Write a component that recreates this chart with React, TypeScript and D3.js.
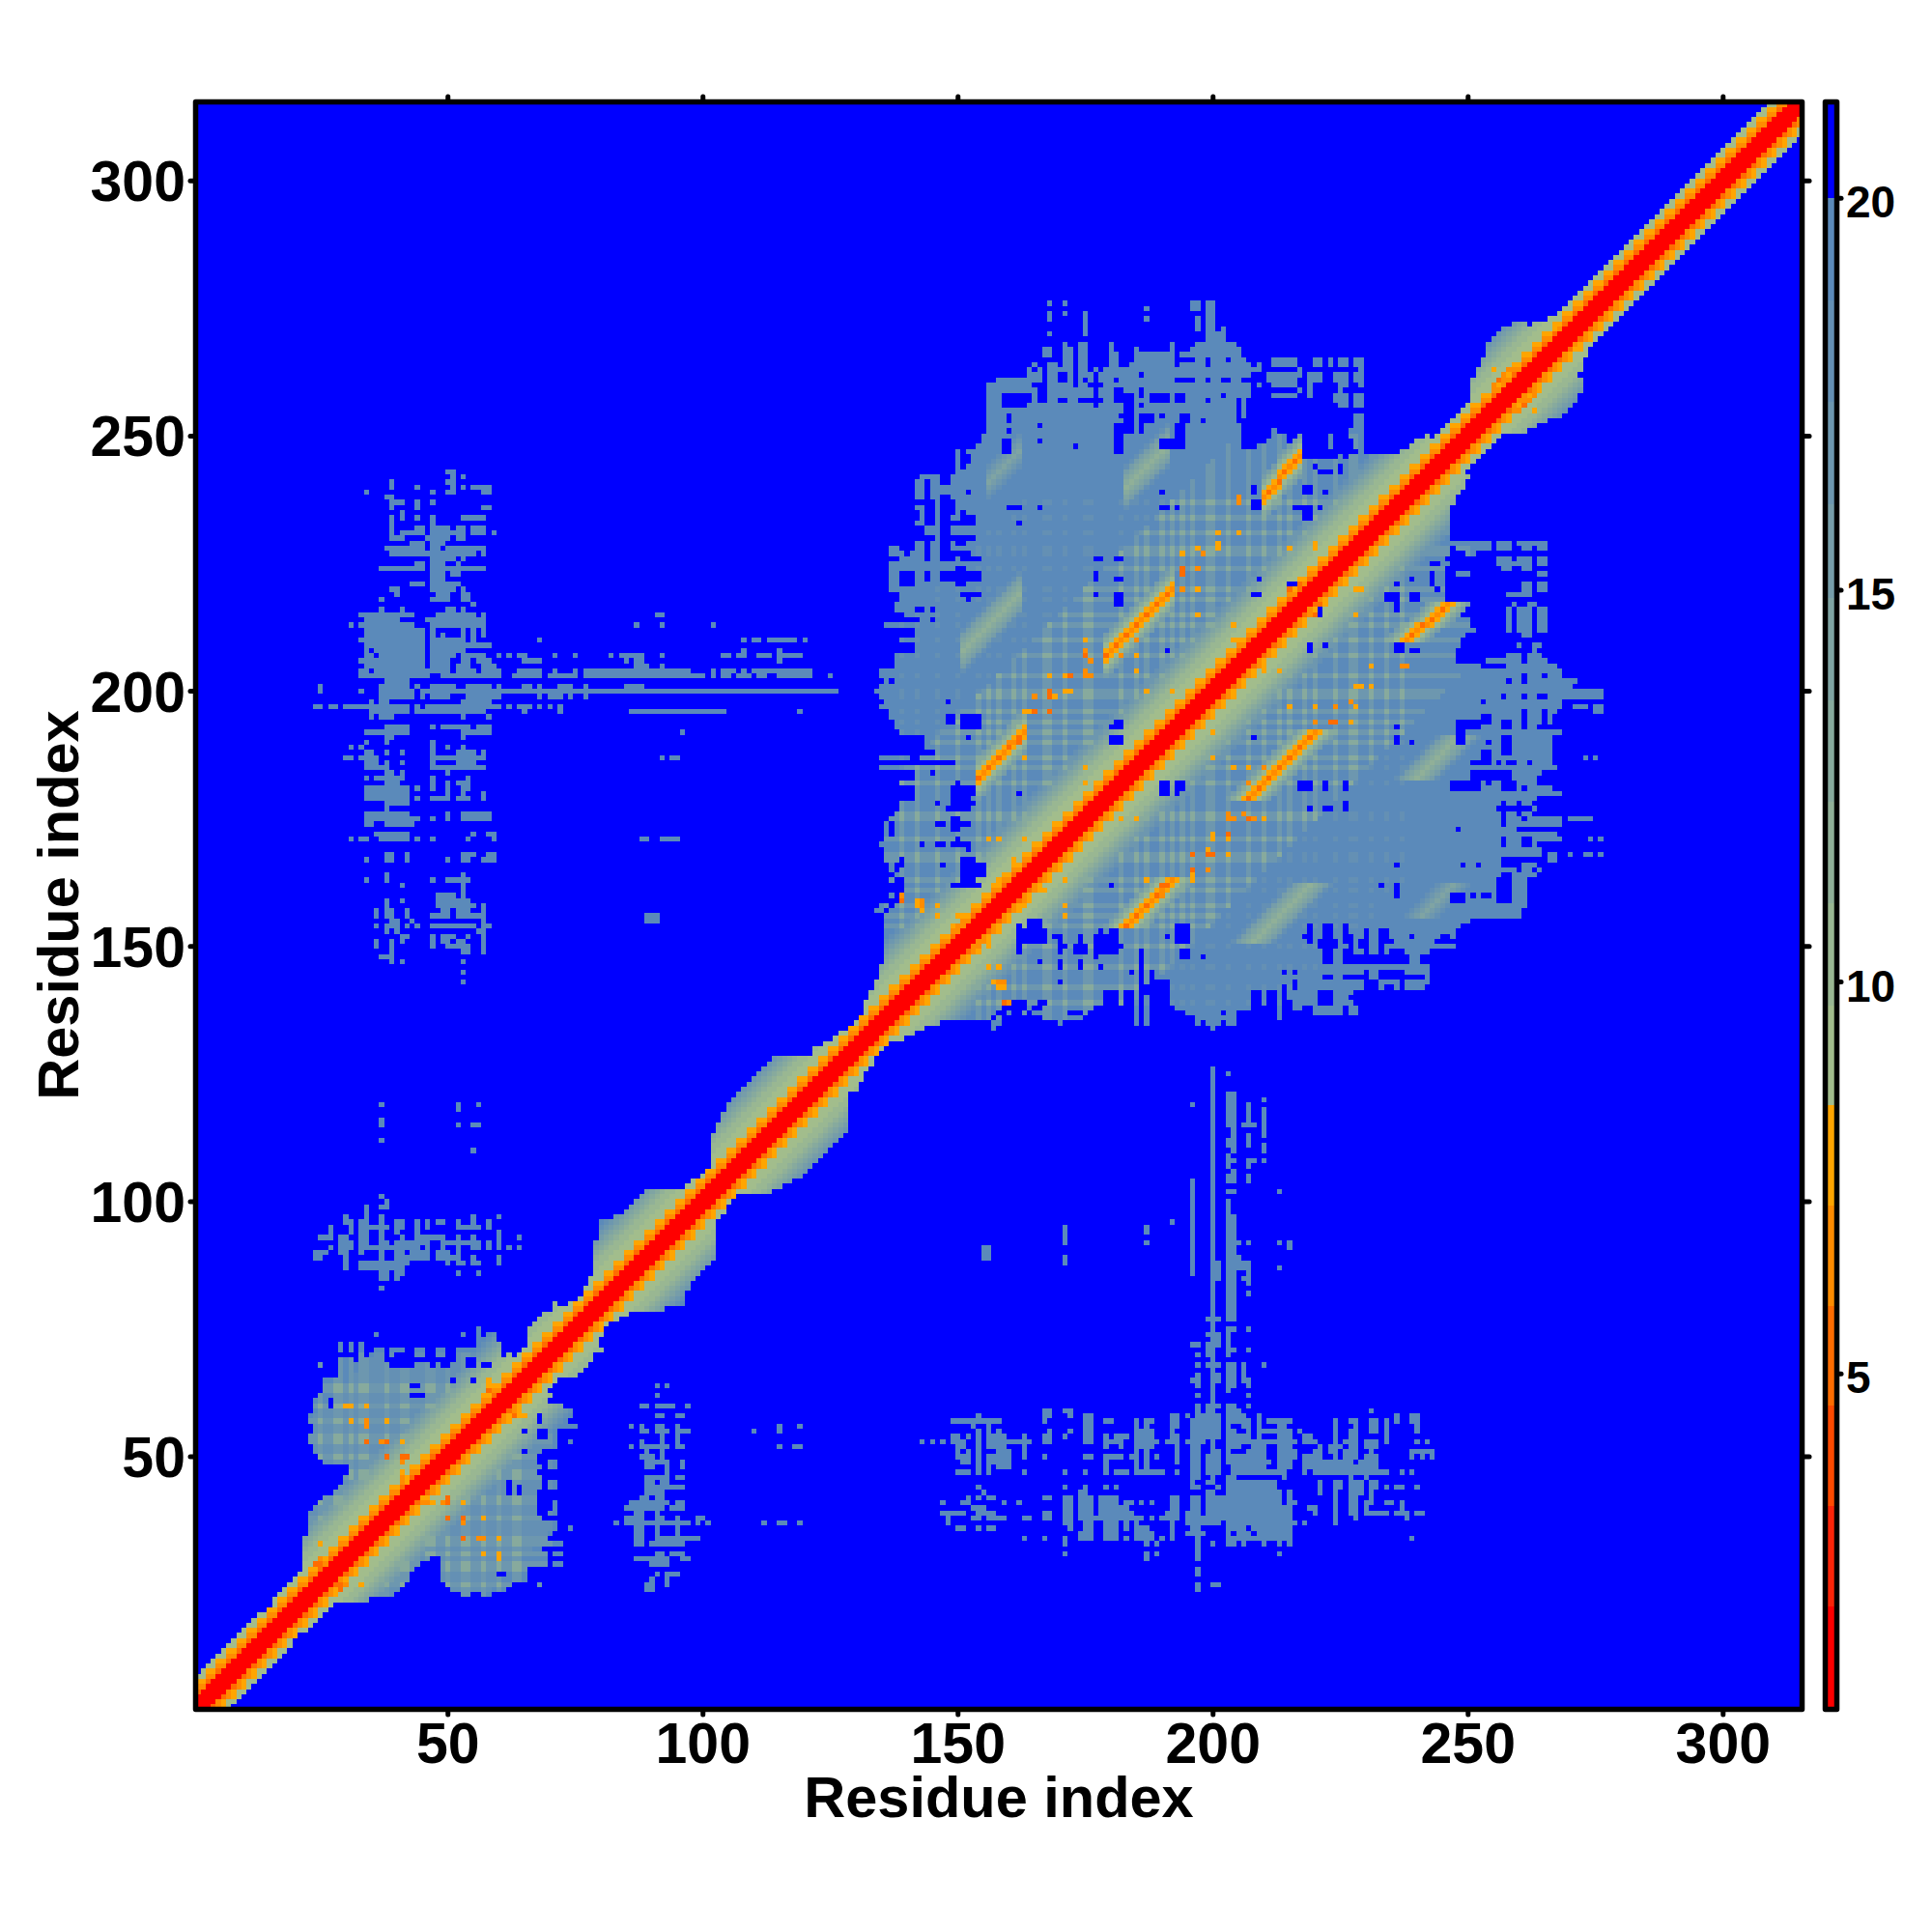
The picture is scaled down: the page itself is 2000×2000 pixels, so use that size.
import React, { useMemo } from "react";
import * as d3 from "d3";

// ---- Axis data
const axisTicks = [50, 100, 150, 200, 250, 300];
const barTicks = [5, 10, 15, 20];
const barBreaks = [0.75, 2.03, 3.31, 4.59, 5.87, 7.15, 8.43, 9.7, 11, 12.3, 13.6, 14.9, 16.1, 17.4, 18.7, 20, 21.2];
const warmColors = ["#ff0000", "#fa2408", "#ff4a00", "#ff6c00", "#ff8c00", "#ffa500"];
const sageColor = "#a2bd8c";
const steelColor = "#5b8aba";
const blueColor = "#0000ff";

// ---- Contact map data (residue numbers; lower-right triangle, mirrored)
// level by distance from the diagonal, for odd and even residues
const bandOdd = [0, 0, 0, 3, 4, 5, 6, 6, 7, 7, 8, 9, 10, 11, 12, 13];
const bandEven = [0, 0, 0, 4, 5, 6, 6, 6, 7, 7, 8, 9, 10, 11, 12, 13];
// last filled residue on each row, row 1 first
const rowEnds = [7, 8, 9, 10, 11, 12, 13, 14, 15, 16, 17, 18, 19, 19, 20, 22, 23, 24, 25, 26, 27, 34, 39, 40, 41, 42, 42, 43, 44, 46,
  69, 68, 72, 69, 70, 71, 71, 68, 67, 67, 67, 67, 67, 68, 68, 68, 67, 68, 67, 67, 68, 71, 71, 71, 71, 75, 73, 74, 74, 72,
  69, 70, 69, 70, 71, 75, 76, 77, 78, 78, 80, 79, 79, 80, 80, 81, 83, 85, 92, 96, 96, 96, 97, 97, 98, 99, 100, 101, 102, 102,
  102, 102, 102, 102, 102, 102, 103, 104, 104, 105, 106, 113, 115, 117, 119, 120, 121, 122, 123, 124, 125, 126, 127, 128, 128, 128, 128, 128, 128, 128,
  128, 130, 130, 131, 131, 132, 133, 133, 134, 135, 136, 139, 141, 143, 146, 156, 157, 158, 178, 184,
  229, 241, 242, 242, 242, 242, 240, 240, 242, 247, 246, 247, 247, 248, 250, 260, 260, 261, 261, 261,
  261, 261, 261, 263, 264, 263, 263, 264, 264, 263, 268, 267, 268, 268, 268, 262, 263, 262, 263, 268,
  266, 263, 263, 264, 267, 266, 266, 266, 266, 266, 266, 268, 267, 268, 267, 267, 268, 268, 276, 276,
  270, 271, 268, 268, 252, 247, 247, 247, 248, 248, 249, 251, 250, 250, 248, 248, 246, 245, 245, 245,
  245, 245, 245, 245, 246, 245, 246, 246, 246, 246, 246, 246, 246, 246, 246, 246, 247, 247, 248, 249,
  249, 250, 249, 250, 251, 252, 253, 254, 255, 256, 261, 263, 265, 268, 269, 270, 271, 271, 272, 272,
  272, 271, 272, 272, 272, 273, 273, 274, 275, 276, 277, 278, 279, 280, 281, 282, 283, 284, 285, 286,
  287, 288, 289, 290, 291, 292, 293, 294, 295, 296, 297, 298, 299, 300, 301, 302, 303, 304, 305, 306, 307, 308, 309, 310, 311, 312, 313, 314, 315, 315, 315, 315, 315, 315, 315];
// detached spans next to the blobs
const nearSpans: [number, string][] = [
  [23, "53-54 57-58"], [24, "51-61"], [25, "50-62 68"], [26, "49-65"], [27, "49-65"], [28, "49-65"], [29, "49-69 71-72"], [30, "49-69"],
  [31, "71-72"], [36, "74"], [39, "70-71"], [40, "71"], [41, "71"], [44, "70-71"], [45, "70-71"], [48, "70-71"], [49, "70-71"], [53, "74"],
  [134, "157 200"], [135, "157-158 170 197 199-201 203-204"], [136, "158 167-174 197-204 213"],
  [137, "160 163 165-171 175 195-201 203-204 213 215 220-225 227-228"],
  [138, "164 167-176 193-208 213 216-217 220-225 227-228"], [139, "182 191-208 210 212-213 216-220 224-227"],
  [140, "191-208 210 212-213 215-220 224-226 228"],
  [167, "266-267"], [168, "266-267 270 273-274 276"], [171, "274 276"], [175, "270-274"], [187, "273 275"], [196, "275-276"], [197, "271-273 275-276"],
  [205, "258-267"], [206, "254-257 258-260 262-265"], [207, "258-260 262-264"], [208, "263"], [209, "260 263-264"], [211, "261-262"],
  [212, "258 260-262 264-265"], [213, "258 260-262 264-265"], [214, "258 260-262 264-265"], [215, "258 260-262 264-265"], [216, "258 260-262 264-265"],
  [217, "259 262-263"], [219, "258-260 261-262"], [220, "261-262 264-265"], [221, "261-262 264-265"], [223, "248-250 264-265"], [224, "257-258 261-262"],
  [225, "256-259 260-262 264-265"], [226, "256-258 260-262 264-265"], [227, "250-251"], [228, "248-254 256-258 261-262 264-265"], [229, "247-254 256-258 260-263 264-265"],
];
// block of scattered contacts, residues 83-119 against 24-64
const blockA: [number, string][] = [
  [64, "91 93"], [62, "91"], [60, "88-89 91-94 97"], [58, "91-92 95-96"], [56, "86 88 91-92 95 115 119"], [55, "88-89 91-93 95-97 110 115"],
  [54, "92 95"], [53, "88 92 95"], [52, "86 88-93 95-96 115 118-119"], [51, "89 92"], [50, "88-90 92"], [49, "89-93 96"], [48, "89-90 93 96"], [47, "93"],
  [46, "89-93 95-96"], [45, "89-90 92-93"], [44, "89-96"], [43, "89-92"], [42, "88-89 91-92"], [41, "86-93 95-96"], [40, "85-92 94-96"], [39, "87-88 91"],
  [38, "85-88 91-92 95 99-100"], [37, "83 85-97 99 101 112 115-116 119"], [36, "87-88 91 95"], [35, "87-88 91 95"], [34, "87-88 91-99"], [33, "87-88 90-96"],
  [31, "91-92 94-96"], [30, "87-93 96-97"], [29, "90-93"], [27, "91 93-95"], [26, "90 93"], [25, "89-90 93"], [24, "89-90"],
];
// block of scattered contacts, residues 143-243 against 24-70
const blockB: [number, string][] = [
  [70, "197 199-200 203"], [68, "197 199-201 203-204 206 210"], [67, "200 203-204 206"], [66, "197 200-201 203-204 206"], [65, "196-197 200-201 203-204 206-207"],
  [64, "197 200 203-204 207"], [63, "200 203"], [62, "197 200 207"], [61, "200"], [60, "197 199-201 203-204 207"],
  [59, "167-168 171-172 197 199-200 203-205 231"], [58, "154 167-168 172 175-176 192-193 195 197-201 203-206 209 236 239-240"],
  [57, "149-158 167 175-176 179-180 185 187-188 192-193 196-201 203-207 209 211-212 213-215 224 227-228 231-232 234 236 239-240"],
  [56, "153 156 175-176 185 187 192-193 196-199 200-201 203 206-207 209 213-214 224 228 231-232 234 240"],
  [55, "154 156 158 168 172 175-176 185-188 192 196-199 200-201 203-204 207 209-215 217 224 227-228 231-232 234 240"],
  [54, "149-150 152 154 156-159 163 167-168 171 175-176 179 181-183 185-188 192-193 196-199 200-201 203-207 209 213-215 218-219 224 227-228 234"],
  [53, "143 145 147 149-151 154 156-164 167-168 175-176 179-182 185-189 191-193 195-198 200 203-207 208-210 211-216 218-220 224 226-228 230-232 234 240 242"],
  [52, "150-151 154 156-159 163 179 182 185-188 193 196-197 200 203-205 208-210 213-215 221 223-225 227-228 230-232"],
  [51, "150 152 154 158-160 163 185 187 193 196-197 200-201 203 207-210 213-216 220-221 223-224 226-228 231 239-243"],
  [50, "150-152 154 156-160 163 167 175-176 179-182 184-185 187 189 193 196-197 199-201 203-210 213-216 218-221 224 226-228 230-232 239 241 243"],
  [49, "151-152 154 156-160 179 185 187 193 196-197 199-201 203-211 213-215 218-227 229-232"],
  [48, "154 156 158-160 179 185 187 196-197 199-201 204-210 213-215 218-232"],
  [47, "150-152 154 156 163 171 175 179 181-183 185-190 193 196-197 199-201 204-212 213-214 218 220-234 237 239"],
  [46, "196-197 200 203-204 214 227 230"], [45, "196 199-200 203-212 221 224-225 227-229 231-232"],
  [44, "154 171 175 179 181 196-197 201 203-212 221 224-225 227-229 231-232 234 236-237 240"],
  [43, "155 174-175 199-200 203-212 213 215 221 224 227-229 231"],
  [42, "152 154 156-157 167-168 171-172 174-176 178-181 192-193 196-197 199-212 213 215 224 227-228 231"],
  [41, "147 151-152 159 162 171-172 174-176 178-181 183-184 186 188 192-193 196-197 199-212 213 215-216 224 227-228 230-231 234-235 237"],
  [40, "153-155 171-172 174-176 178-183 192-193 196-197 199-212 213-215 219-220 224 227-228 230 237"],
  [39, "147-151 154-157 167-168 171-172 174-176 178-184 191 192-193 195-197 199-212 213-215 220 224 227-228 230-234 236-238 240-241"],
  [38, "148 153-154 156-159 163-164 167-168 171-172 174-177 178-186 188 190-191 192-193 195-212 213-215 224 228 238"],
  [37, "148 171-172 175-176 179-181 183 185 192 195-201 203-216 218 224"], [36, "172 176 179-181 183 186 197 203-206 208-211 212-215 150-151 154 156-157 175-176 185-187 192 196"],
  [35, "174-176 179-181 185-188 192 195-198 203 205-207 209-215"],
  [34, "163 167 171 174-176 179-181 183 185-188 190 192 197 203-204 205-215 239"], [33, "171 187 189 197 200 203-204 206 210 213 215"], [32, "197"],
  [31, "171 187 189 197 213"], [30, "187 197"], [28, "197"], [27, "197"], [25, "197 200-201"], [24, "197"],
];
// vertical streaks: residue, then the rows it reaches
const columnSpurs: [number, string][] = [
  [155, "89-91"], [156, "89-91"], [171, "88-89 92-95"], [185, "135-140"], [187, "135-141 92 94-95"], [192, "96"], [196, "86-104 119 72"], [197, "70 72"],
  [199, "77 74 70-72"], [200, "69-110 111-113 114-125 126"], [201, "77 85-88 72-74"],
  [203, "70-75 77-79 80-100 102 104-105 107-109 111-112 115-117 118-121 125"], [204, "71 75 77-79 80-97 102 104-106 108 110-121"],
  [205, "87-89 92"], [206, "85 87-88 115"], [207, "71 75 82 84-88 92 104-105 107-108 111-113 115-119"], [208, "108 115"],
  [210, "108 110-111 113-117 118 120"], [213, "87 92 102"], [215, "91-92"],
];
// blue gaps inside the blobs: first residue, last residue, first row, last row
const holes: number[][] = [
  [60, 61, 27, 27], [62, 62, 43, 45], [64, 64, 43, 44], [65, 65, 55, 55], [68, 69, 54, 55], [65, 65, 51, 51], [68, 68, 57, 58],
  [161, 163, 139, 139], [166, 167, 139, 139], [179, 181, 139, 141], [183, 184, 139, 141], [186, 186, 139, 149], [188, 188, 143, 145], [187, 190, 141, 142], [189, 191, 139, 143],
  [162, 162, 149, 154], [163, 167, 151, 153], [164, 166, 153, 155], [166, 166, 147, 147], [169, 170, 152, 152], [170, 170, 149, 151], [171, 171, 150, 150],
  [173, 175, 149, 150], [174, 174, 151, 152], [170, 170, 146, 147], [174, 174, 146, 147], [170, 170, 143, 143], [178, 178, 146, 146],
  [177, 181, 149, 152], [178, 178, 153, 153], [180, 181, 153, 153], [182, 182, 150, 150], [177, 177, 148, 148], [180, 180, 162, 162], [184, 184, 145, 145],
  [190, 191, 180, 181], [193, 193, 180, 181], [162, 162, 180, 180], [191, 191, 152, 152], [193, 195, 151, 154], [194, 195, 148, 149], [198, 198, 148, 148],
  [236, 236, 160, 162], [233, 233, 162, 162], [236, 236, 166, 166], [249, 249, 166, 166], [252, 252, 166, 166], [248, 248, 173, 173], [247, 252, 181, 182],
  [217, 219, 181, 182], [222, 222, 181, 182], [226, 226, 181, 182], [226, 226, 177, 178], [219, 219, 177, 177], [222, 223, 177, 177], [190, 191, 181, 182], [193, 194, 181, 182],
  [236, 236, 193, 193], [236, 236, 190, 191], [239, 239, 190, 190], [208, 208, 191, 191], [248, 249, 190, 194], [219, 219, 208, 209], [222, 222, 209, 209], [236, 237, 208, 209],
  [239, 240, 208, 208], [191, 191, 208, 208], [221, 221, 215, 216], [234, 236, 218, 219], [236, 236, 216, 218], [239, 240, 218, 219], [236, 236, 221, 221], [239, 239, 222, 222],
  [208, 209, 219, 219], [209, 209, 222, 222], [215, 216, 221, 221], [243, 244, 225, 225], [243, 243, 221, 223], [244, 244, 220, 220], [246, 246, 215, 215],
  [253, 253, 198, 198], [258, 258, 202, 202], [261, 261, 202, 203], [265, 265, 203, 203], [257, 257, 199, 199], [261, 261, 199, 199], [264, 265, 199, 199],
  [248, 252, 193, 194], [253, 254, 194, 195], [257, 258, 193, 194], [261, 261, 193, 196], [264, 268, 193, 193], [265, 265, 194, 196], [267, 268, 194, 195],
  [257, 258, 188, 191], [254, 254, 190, 190], [253, 254, 186, 188], [251, 254, 186, 186], [256, 256, 186, 186], [258, 259, 186, 186], [262, 262, 186, 186],
  [251, 258, 183, 184], [254, 254, 182, 182], [257, 259, 181, 182], [261, 261, 181, 181], [256, 262, 177, 177], [257, 257, 175, 178], [260, 260, 176, 178], [261, 261, 175, 175],
  [257, 257, 174, 174], [260, 263, 173, 173], [264, 268, 173, 173], [257, 257, 170, 171], [261, 262, 170, 171], [257, 260, 166, 167], [260, 263, 167, 167], [257, 258, 164, 164],
  [260, 260, 165, 165], [263, 263, 165, 165], [256, 258, 159, 163], [247, 249, 159, 160], [251, 251, 160, 160], [253, 254, 160, 160],
  [219, 219, 151, 154], [218, 218, 152, 152], [222, 223, 151, 154], [221, 224, 150, 151], [222, 223, 147, 150], [226, 226, 151, 154], [227, 227, 150, 152], [226, 227, 147, 149],
  [229, 230, 150, 151], [230, 230, 152, 153], [230, 230, 149, 149], [228, 238, 147, 148], [233, 234, 151, 153], [235, 235, 151, 151], [233, 233, 149, 150], [235, 237, 149, 149],
  [239, 239, 152, 152], [244, 246, 151, 151], [245, 246, 152, 152], [222, 223, 144, 144], [226, 230, 144, 144], [230, 230, 142, 145], [233, 237, 144, 145], [237, 241, 144, 144],
  [231, 232, 142, 143], [234, 235, 142, 142], [237, 237, 142, 143], [214, 214, 145, 145], [216, 216, 145, 145], [214, 214, 141, 142], [216, 216, 142, 143],
  [208, 209, 138, 141], [211, 212, 138, 141], [214, 215, 136, 139], [221, 223, 141, 141], [228, 229, 139, 141],
];
// residues whose rows and columns show as lighter plaid lines
const plaidFirst = [25, 28, 29, 31, 33, 34, 38, 41, 42, 46, 47, 50, 53, 54, 57, 60, 63, 64];
const plaidSecond = [139, 142, 146, 150, 154, 156, 158, 161, 163, 167, 168, 171, 175, 176, 182, 185, 187, 190, 192, 194, 196, 199, 200, 203, 207, 210, 213, 215, 218, 220, 224, 227, 228, 231, 234, 237];
// strands: offset from the diagonal, then first and last residue
const strands: number[][] = [[28, 238, 241], [29, 242, 246], [28, 207, 220], [29, 183, 192]];
// faint sage ridges: offset, first and last residue, lightest level
const ridges: number[][] = [[57, 240, 248, 8], [57, 208, 219, 8], [85, 241, 247, 10]];
// single warm cells: residue, row, palette level
const warmCells: number[][] = [
  [50, 38, 3], [53, 38, 3], [57, 38, 5], [53, 37, 4], [53, 34, 3], [56, 34, 4], [57, 34, 4], [60, 34, 5], [57, 31, 5], [60, 31, 5], [60, 30, 5],
  [49, 41, 4], [50, 41, 3], [50, 42, 3], [53, 41, 5], [46, 41, 4], [47, 41, 5], [45, 42, 5], [33, 25, 5], [29, 25, 3], [30, 25, 4], [25, 33, 5], [27, 24, 4], [24, 29, 3], [25, 29, 3],
  [63, 58, 4], [64, 58, 5], [65, 58, 5], [58, 63, 3], [58, 65, 5], [58, 64, 5],
  [223, 194, 3], [224, 194, 3], [220, 194, 4], [227, 194, 5], [224, 197, 3], [220, 197, 4], [215, 197, 5], [227, 198, 4], [228, 197, 5], [228, 201, 5], [229, 201, 5], [231, 201, 5], [231, 205, 5], [237, 205, 4], [238, 205, 4],
  [210, 204, 4], [210, 205, 4], [213, 204, 5], [215, 220, 3], [217, 221, 3], [220, 215, 3], [221, 217, 3], [228, 215, 5], [228, 220, 5], [229, 220, 5],
  [197, 215, 5], [204, 213, 5], [197, 220, 5], [194, 220, 4], [194, 223, 3], [194, 224, 3], [197, 224, 4], [194, 227, 5], [198, 227, 4], [197, 228, 5], [201, 228, 5], [215, 228, 5], [220, 228, 5],
  [204, 210, 5], [205, 210, 5], [200, 192, 5], [192, 200, 5], [192, 187, 5], [200, 187, 5], [204, 185, 5], [207, 185, 5], [207, 182, 4], [210, 185, 4],
  [203, 176, 4], [206, 176, 4], [207, 175, 3], [208, 175, 4], [203, 175, 4], [204, 175, 4], [210, 175, 5], [200, 172, 5], [203, 172, 3], [200, 171, 5], [203, 171, 5],
  [196, 168, 3], [199, 168, 3], [200, 168, 3], [203, 168, 5], [199, 169, 5], [196, 165, 3], [199, 165, 4], [196, 164, 5], [196, 163, 5], [192, 163, 4], [190, 162, 3], [191, 162, 3], [190, 160, 4],
  [156, 171, 5], [158, 171, 5], [163, 171, 5], [161, 167, 5], [158, 163, 5], [158, 161, 4], [139, 160, 3], [142, 159, 5], [143, 159, 4], [142, 158, 4], [143, 158, 4], [143, 157, 4], [146, 158, 5], [146, 156, 4], [150, 156, 5],
  [150, 154, 4], [151, 154, 4], [167, 161, 5], [163, 158, 5], [171, 158, 5], [171, 156, 5], [171, 163, 5], [182, 175, 4], [185, 175, 5], [175, 182, 5], [175, 185, 5], [163, 187, 5],
  [154, 151, 4], [156, 150, 5], [156, 146, 5], [158, 146, 5], [157, 143, 5], [158, 143, 4], [159, 143, 4], [158, 142, 5], [159, 139, 3], [160, 139, 4],
  [255, 263, 5], [267, 271, 5], [271, 267, 5], [263, 255, 5], [256, 259, 4], [257, 260, 4], [255, 259, 4], [259, 255, 4], [260, 255, 4], [261, 256, 3], [260, 263, 4], [262, 257, 4], [263, 258, 4],
];

const lastResidue = 315;
const strandLevels = [4, 5, 7, 9, 11];

function spans(text: string): [number, number][] {
  return text.split(" ").map((t) => {
    const [a, b] = t.split("-").map(Number);
    return [a, b === undefined ? a : b] as [number, number];
  });
}

function buildGrid() {
  const grid: Uint8Array[] = d3.range(lastResidue + 2).map(() => new Uint8Array(lastResidue + 2).fill(15));
  const put = (x: number, y: number, l: number) => {
    if (x < 1 || y < 1 || x > lastResidue || y > lastResidue) return;
    grid[y][x] = l;
    grid[x][y] = l;
  };
  const lower = (x: number, y: number, l: number) => {
    if (x < 1 || y < 1 || x > lastResidue || y > lastResidue) return;
    if (grid[y][x] > l) put(x, y, l);
  };
  rowEnds.forEach((end, i) => {
    const y = i + 1;
    for (let x = y; x <= end; x++) put(x, y, 14);
  });
  [...nearSpans, ...blockA, ...blockB].forEach(([y, text]) => {
    spans(text).forEach(([a, b]) => {
      for (let x = a; x <= b; x++) put(x, y, 14);
    });
  });
  columnSpurs.forEach(([x, text]) => {
    spans(text).forEach(([a, b]) => {
      for (let y = a; y <= b; y++) put(x, y, 14);
    });
  });
  holes.forEach(([x0, x1, y0, y1]) => {
    for (let y = y0; y <= y1; y++) for (let x = x0; x <= x1; x++) put(x, y, 15);
  });
  const setA = new Set(plaidFirst);
  const setB = new Set(plaidSecond);
  for (let y = 1; y <= lastResidue; y++) {
    for (let x = y; x <= lastResidue; x++) {
      if (grid[y][x] === 15) continue;
      const d = x - y;
      if (x <= 70 && y >= 23 && d > 0) {
        const n = (setA.has(x) ? 1 : 0) + (setA.has(y) ? 1 : 0);
        if (n === 2) lower(x, y, 9);
        else if (n === 1) lower(x, y, 12);
        else if (d < 35) lower(x, y, 13);
      }
      if (y >= 136 && x <= 250) {
        const n = (setB.has(x) ? 1 : 0) + (setB.has(y) ? 1 : 0);
        if (d <= 45) {
          if (n === 2) lower(x, y, 9);
          else if (n === 1) lower(x, y, 12);
        } else if (d <= 75 && n === 2) {
          lower(x, y, 13);
        }
      }
      const table = y % 2 ? bandOdd : bandEven;
      if (d < table.length) lower(x, y, table[d]);
    }
  }
  ridges.forEach(([d, a, b, top]) => {
    for (let x = a; x <= b; x++) {
      [top, top + 1, top + 2, top + 3, top + 5].forEach((l, k) => {
        const lv = Math.min(l, 14);
        if (grid[x - d][x + k] !== 15) lower(x + k, x - d, lv);
        if (grid[x - d][x - k] !== 15) lower(x - k, x - d, lv);
      });
    }
  });
  strands.forEach(([d, a, b]) => {
    for (let x = a; x <= b; x++) {
      strandLevels.forEach((l, k) => {
        const lv = k === 0 && x % 2 ? 3 : l;
        lower(x + k, x - d, lv);
        lower(x - k, x - d, lv);
      });
    }
  });
  warmCells.forEach(([x, y, l]) => put(x, y, l));
  return grid;
}

const coolColors = d3.range(9).map((i) => d3.interpolateRgb(sageColor, steelColor)(i / 8));
const palette = [...warmColors, ...coolColors, blueColor];

export default function App() {
  const x = d3.scaleLinear().domain([1, lastResidue]).range([205, 1863]);
  const y = d3.scaleLinear().domain([1, lastResidue]).range([1767, 108]);
  const barY = d3.scaleLinear().domain([0.75, 21.2]).range([1767, 108]);
  const color = d3.scaleOrdinal<number, string>().domain(d3.range(16)).range(palette);

  const runs = useMemo(() => {
    const grid = buildGrid();
    const out: { r: number; a: number; b: number; l: number }[] = [];
    for (let r = 1; r <= lastResidue; r++) {
      let c = 1;
      while (c <= lastResidue) {
        const l = grid[r][c];
        let e = c;
        while (e + 1 <= lastResidue && grid[r][e + 1] === l) e++;
        if (l !== 15) out.push({ r, a: c, b: e, l });
        c = e + 1;
      }
    }
    return out;
  }, []);

  const font = "'Liberation Sans', Arial, sans-serif";
  const bw = 5.5;
  return (
    <svg width={2000} height={2000} viewBox="0 0 2000 2000" style={{ position: "absolute", left: 0, top: 0, display: "block", background: "#fff" }}>
      <defs>
        <clipPath id="plot"><rect x={205} y={108} width={1658} height={1659} /></clipPath>
      </defs>
      <rect x={205} y={108} width={1658} height={1659} fill={blueColor} />
      <g clipPath="url(#plot)" shapeRendering="crispEdges">
        {runs.map((c, i) => (
          <rect key={i} x={x(c.a - 0.5)} y={y(c.r + 0.5)} width={x(c.b + 0.5) - x(c.a - 0.5)} height={y(c.r - 0.5) - y(c.r + 0.5)} fill={color(c.l)} />
        ))}
      </g>
      <rect x={202.5} y={105.5} width={1663} height={1664} fill="none" stroke="#000" strokeWidth={bw} strokeLinejoin="round" />
      <g stroke="#000" strokeWidth={5} strokeLinecap="round">
        {axisTicks.map((t) => (
          <g key={t}>
            <line x1={x(t)} x2={x(t)} y1={1770} y2={1775} />
            <line x1={x(t)} x2={x(t)} y1={105} y2={100} />
            <line y1={y(t)} y2={y(t)} x1={202} x2={197} />
            <line y1={y(t)} y2={y(t)} x1={1866} x2={1873} />
          </g>
        ))}
      </g>
      <g fontFamily={font} fontWeight="bold" fontSize={59} fill="#000">
        {axisTicks.map((t) => (
          <text key={t} x={x(t)} y={1825} textAnchor="middle">{t}</text>
        ))}
        {axisTicks.map((t) => (
          <text key={t} x={192} y={y(t) + 21} textAnchor="end">{t}</text>
        ))}
      </g>
      <text x={1034} y={1881} textAnchor="middle" fontFamily={font} fontWeight="bold" fontSize={59.5}>Residue index</text>
      <text transform="translate(81,937) rotate(-90)" textAnchor="middle" fontFamily={font} fontWeight="bold" fontSize={59.5}>Residue index</text>
      <g shapeRendering="crispEdges">
        {palette.map((c, i) => (
          <rect key={i} x={1892} y={barY(barBreaks[i + 1])} width={7} height={barY(barBreaks[i]) - barY(barBreaks[i + 1])} fill={c} />
        ))}
      </g>
      <rect x={1889.5} y={105.5} width={12} height={1664} fill="none" stroke="#000" strokeWidth={bw} strokeLinejoin="round" />
      <g stroke="#000" strokeWidth={5} strokeLinecap="round">
        {barTicks.map((t) => (
          <line key={t} y1={barY(t)} y2={barY(t)} x1={1902} x2={1906} />
        ))}
      </g>
      <g fontFamily={font} fontWeight="bold" fontSize={46} fill="#000">
        {barTicks.map((t) => (
          <text key={t} x={1911} y={barY(t) + 20}>{t}</text>
        ))}
      </g>
    </svg>
  );
}
